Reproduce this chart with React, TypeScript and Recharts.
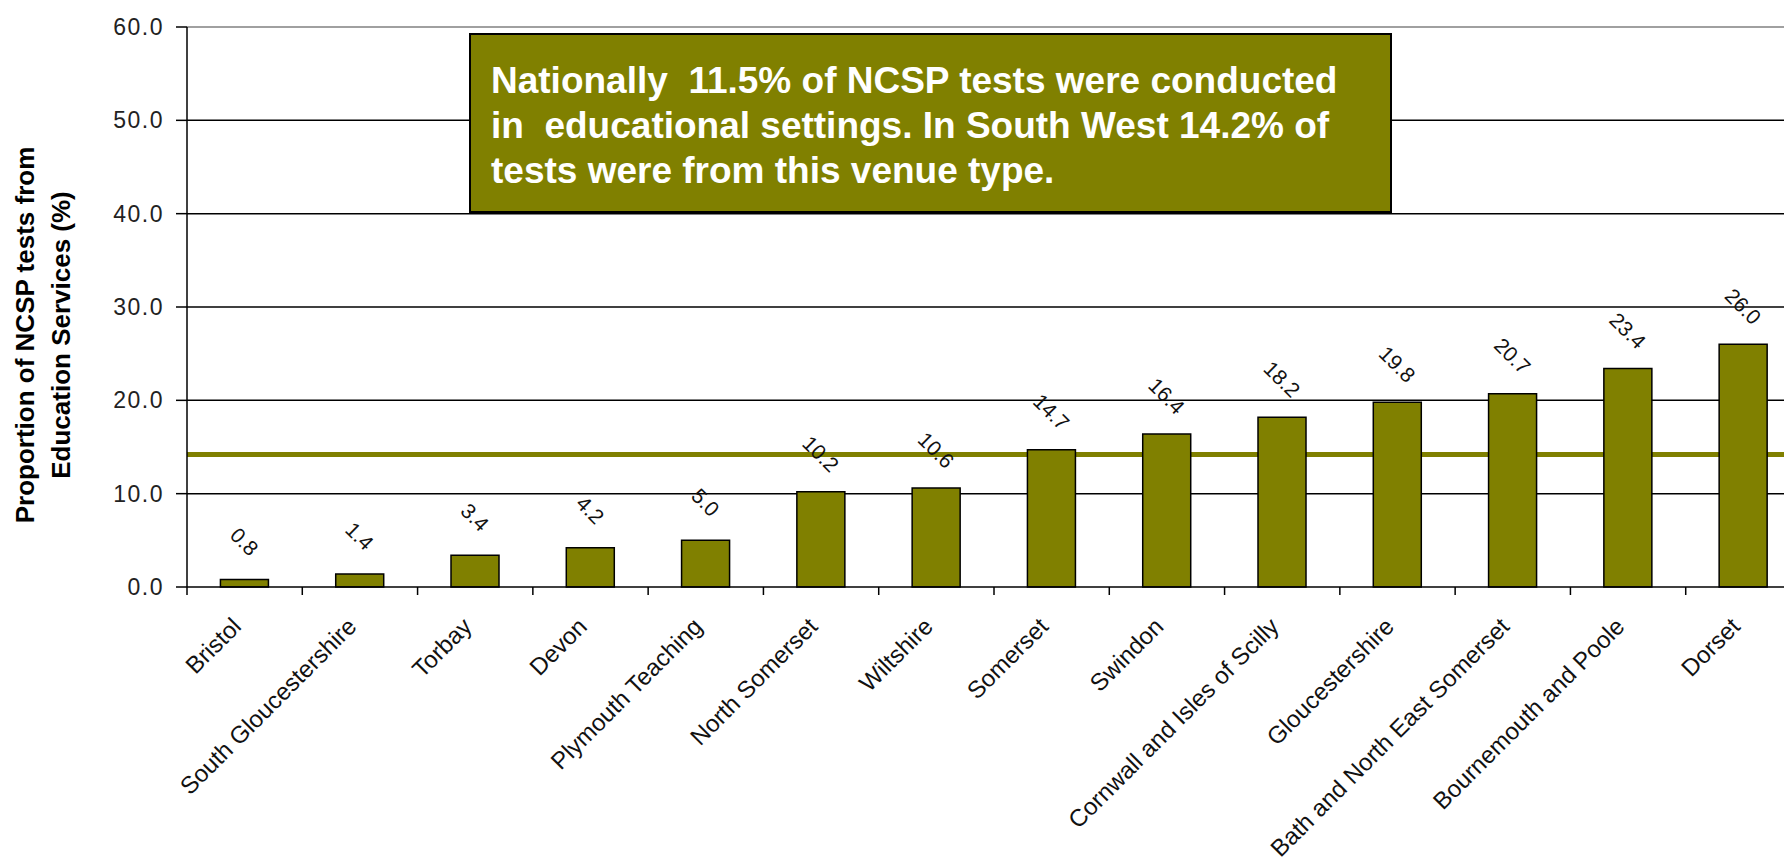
import React from 'react';
import {
  BarChart,
  Bar,
  XAxis,
  YAxis,
  CartesianGrid,
  ReferenceLine,
  LabelList,
} from 'recharts';

const categories = [
  'Bristol',
  'South Gloucestershire',
  'Torbay',
  'Devon',
  'Plymouth Teaching',
  'North Somerset',
  'Wiltshire',
  'Somerset',
  'Swindon',
  'Cornwall and Isles of Scilly',
  'Gloucestershire',
  'Bath and North East Somerset',
  'Bournemouth and Poole',
  'Dorset',
];

const educationShare = [0.8, 1.4, 3.4, 4.2, 5.0, 10.2, 10.6, 14.7, 16.4, 18.2, 19.8, 20.7, 23.4, 26.0];

const yTicks = [0, 10, 20, 30, 40, 50, 60];
const innerGridValues = [10, 20, 30, 40, 50];
const southWestRate = 14.2;

const yLabelLines = ['Proportion of NCSP tests from', 'Education Services (%)'];
const noteLines = [
  'Nationally  11.5% of NCSP tests were conducted',
  'in  educational settings. In South West 14.2% of',
  'tests were from this venue type.',
];

const FONT = '"Liberation Sans", Arial, sans-serif';
const OLIVE = '#808000';

const data = categories.map((name, i) => ({ name, value: educationShare[i] }));

function CategoryTick(props: any) {
  const { x, y, payload, width } = props;
  const band = width / categories.length;
  const left = x - band / 2;
  const tx = x - 2;
  const ty = y + 41;
  return (
    <g>
      <line x1={left} y1={y} x2={left} y2={y + 8} stroke="#000" strokeWidth={1.5} />
      <text
        x={tx}
        y={ty}
        transform={`rotate(-45, ${tx}, ${ty})`}
        textAnchor="end"
        fontFamily={FONT}
        fontSize={24}
        fill="#111"
      >
        {payload.value}
      </text>
    </g>
  );
}

function ValueLabel(props: any) {
  const { x, y, width, value } = props;
  const cx = x + width / 2;
  const cy = y - 38;
  return (
    <text
      x={cx}
      y={cy}
      transform={`rotate(45, ${cx}, ${cy})`}
      textAnchor="middle"
      dominantBaseline="central"
      fontFamily={FONT}
      fontSize={21}
      fill="#111"
    >
      {Number(value).toFixed(1)}
    </text>
  );
}

function AxisTitle(props: any) {
  const { viewBox } = props;
  const cy = viewBox.y + viewBox.height / 2 + 28;
  return (
    <g>
      {yLabelLines.map((line, i) => {
        const bx = viewBox.x + 34 + i * 36;
        return (
          <text
            key={line}
            x={bx}
            y={cy}
            transform={`rotate(-90, ${bx}, ${cy})`}
            textAnchor="middle"
            fontFamily={FONT}
            fontWeight="bold"
            fontSize={26}
            fill="#000"
          >
            {line}
          </text>
        );
      })}
    </g>
  );
}

export default function App() {
  return (
    <div
      style={{
        position: 'fixed',
        left: 0,
        top: 0,
        width: 1784,
        height: 866,
        overflow: 'hidden',
        background: '#fff',
      }}
    >
      <BarChart
        width={1801}
        height={866}
        data={data}
        margin={{ top: 27, right: 0, left: 0, bottom: 0 }}
        barCategoryGap="29%"
      >
        <CartesianGrid
          vertical={false}
          horizontalValues={innerGridValues}
          stroke="#000"
          strokeWidth={1.5}
        />
        <ReferenceLine y={60} stroke="#a0a0a0" strokeWidth={2} />
        {/* South West average sits behind the bars */}
        <ReferenceLine y={southWestRate} stroke={OLIVE} strokeWidth={5} zIndex={0} />
        <XAxis
          dataKey="name"
          interval={0}
          height={279}
          axisLine={{ stroke: '#000', strokeWidth: 1.5 }}
          tickLine={false}
          tickSize={0}
          tickMargin={0}
          tick={<CategoryTick />}
        />
        <YAxis
          width={187}
          domain={[0, 60]}
          ticks={yTicks}
          interval={0}
          tickFormatter={(v: number) => v.toFixed(1)}
          axisLine={{ stroke: '#000', strokeWidth: 1.5 }}
          tickLine={{ stroke: '#000', strokeWidth: 1.5 }}
          tickSize={11}
          tickMargin={12}
          tick={{ fontFamily: FONT, fontSize: 23, fill: '#222', letterSpacing: 1.5 }}
          label={{ content: <AxisTitle /> }}
        />
        <Bar
          dataKey="value"
          fill={OLIVE}
          stroke="#000"
          strokeWidth={1.5}
          isAnimationActive={false}
        >
          <LabelList dataKey="value" content={<ValueLabel />} />
        </Bar>
      </BarChart>
      <div
        style={{
          position: 'absolute',
          left: 469,
          top: 33,
          width: 923,
          height: 180,
          boxSizing: 'border-box',
          background: OLIVE,
          border: '2px solid #000',
          color: '#fff',
          fontFamily: FONT,
          fontWeight: 'bold',
          fontSize: 37,
          lineHeight: '45px',
          padding: '23px 0 0 20px',
          whiteSpace: 'pre',
        }}
      >
        {noteLines.join('\n')}
      </div>
    </div>
  );
}
